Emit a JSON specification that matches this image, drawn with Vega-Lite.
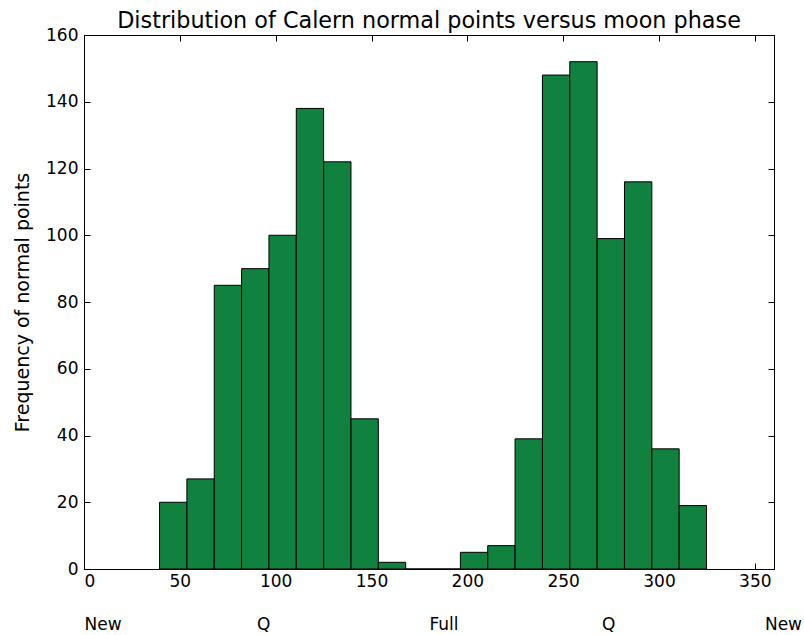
{
  "$schema": "https://vega.github.io/schema/vega-lite/v6.json",
  "width": 690,
  "height": 534,
  "autosize": "none",
  "padding": {"left": 84, "top": 35, "right": 30, "bottom": 66},
  "background": "white",
  "config": {
    "font": "DejaVu Sans",
    "view": {"stroke": "black", "strokeWidth": 1},
    "axis": {
      "domainColor": "black",
      "tickColor": "black",
      "labelColor": "black",
      "titleColor": "black",
      "grid": false,
      "labelFontSize": 17,
      "titleFontSize": 19,
      "titleFontWeight": "normal",
      "tickSize": -6
    }
  },
  "title": {
    "text": "Distribution of Calern normal points versus moon phase",
    "fontSize": 22.3,
    "fontWeight": "normal",
    "color": "black",
    "offset": -6
  },
  "layer": [
    {
      "data": {
        "values": [
          {"start": 39.41, "end": 53.68, "count": 20},
          {"start": 53.68, "end": 67.95, "count": 27},
          {"start": 67.95, "end": 82.22, "count": 85},
          {"start": 82.22, "end": 96.49, "count": 90},
          {"start": 96.49, "end": 110.76, "count": 100},
          {"start": 110.76, "end": 125.02, "count": 138},
          {"start": 125.02, "end": 139.29, "count": 122},
          {"start": 139.29, "end": 153.56, "count": 45},
          {"start": 153.56, "end": 167.83, "count": 2},
          {"start": 167.83, "end": 182.1, "count": 0},
          {"start": 182.1, "end": 196.37, "count": 0},
          {"start": 196.37, "end": 210.64, "count": 5},
          {"start": 210.64, "end": 224.91, "count": 7},
          {"start": 224.91, "end": 239.18, "count": 39},
          {"start": 239.18, "end": 253.45, "count": 148},
          {"start": 253.45, "end": 267.72, "count": 152},
          {"start": 267.72, "end": 281.99, "count": 99},
          {"start": 281.99, "end": 296.26, "count": 116},
          {"start": 296.26, "end": 310.52, "count": 36},
          {"start": 310.52, "end": 324.79, "count": 19}
        ]
      },
      "mark": {"type": "bar", "fill": "#11813f", "stroke": "black", "strokeWidth": 1, "opacity": 1},
      "encoding": {
        "x": {
          "field": "start",
          "type": "quantitative",
          "scale": {"domain": [0, 360], "nice": false, "zero": false},
          "axis": {"values": [0, 50, 100, 150, 200, 250, 300, 350], "title": null, "labelPadding": 10}
        },
        "x2": {"field": "end"},
        "y": {
          "field": "count",
          "type": "quantitative",
          "scale": {"domain": [0, 160], "nice": false},
          "axis": {"values": [0, 20, 40, 60, 80, 100, 120, 140, 160], "title": "Frequency of normal points", "titlePadding": 13, "labelPadding": 12}
        },
        "y2": {"datum": 0}
      }
    },
    {
      "data": {
        "values": [
          {"pos": 0, "phase": "New"},
          {"pos": 90, "phase": "Q"},
          {"pos": 180, "phase": "Full"},
          {"pos": 270, "phase": "Q"},
          {"pos": 355, "phase": "New"}
        ]
      },
      "mark": {"type": "rule", "opacity": 0},
      "encoding": {
        "x": {
          "field": "pos",
          "type": "quantitative",
          "scale": {"domain": [0, 360], "nice": false, "zero": false},
          "axis": {
            "orient": "bottom",
            "offset": 41,
            "values": [0, 90, 180, 270, 355],
            "labelExpr": "datum.value == 180 ? 'Full' : (datum.value == 90 || datum.value == 270 ? 'Q' : 'New')",
            "labelAlign": "left",
            "labelPadding": 6,
            "ticks": false,
            "domain": false,
            "title": null
          }
        },
        "y": {
          "datum": 0,
          "type": "quantitative",
          "scale": {"domain": [0, 160], "nice": false},
          "axis": {"orient": "right", "values": [0, 20, 40, 60, 80, 100, 120, 140, 160], "labels": false, "title": null}
        }
      }
    },
    {
      "data": {"values": [{"v": 0}]},
      "mark": {"type": "rule", "opacity": 0},
      "encoding": {
        "x": {
          "field": "v",
          "type": "quantitative",
          "scale": {"domain": [0, 360], "nice": false, "zero": false},
          "axis": {"orient": "top", "values": [0, 50, 100, 150, 200, 250, 300, 350], "labels": false, "title": null}
        }
      }
    }
  ],
  "resolve": {
    "scale": {"x": "independent", "y": "independent"},
    "axis": {"x": "independent", "y": "independent"}
  }
}
